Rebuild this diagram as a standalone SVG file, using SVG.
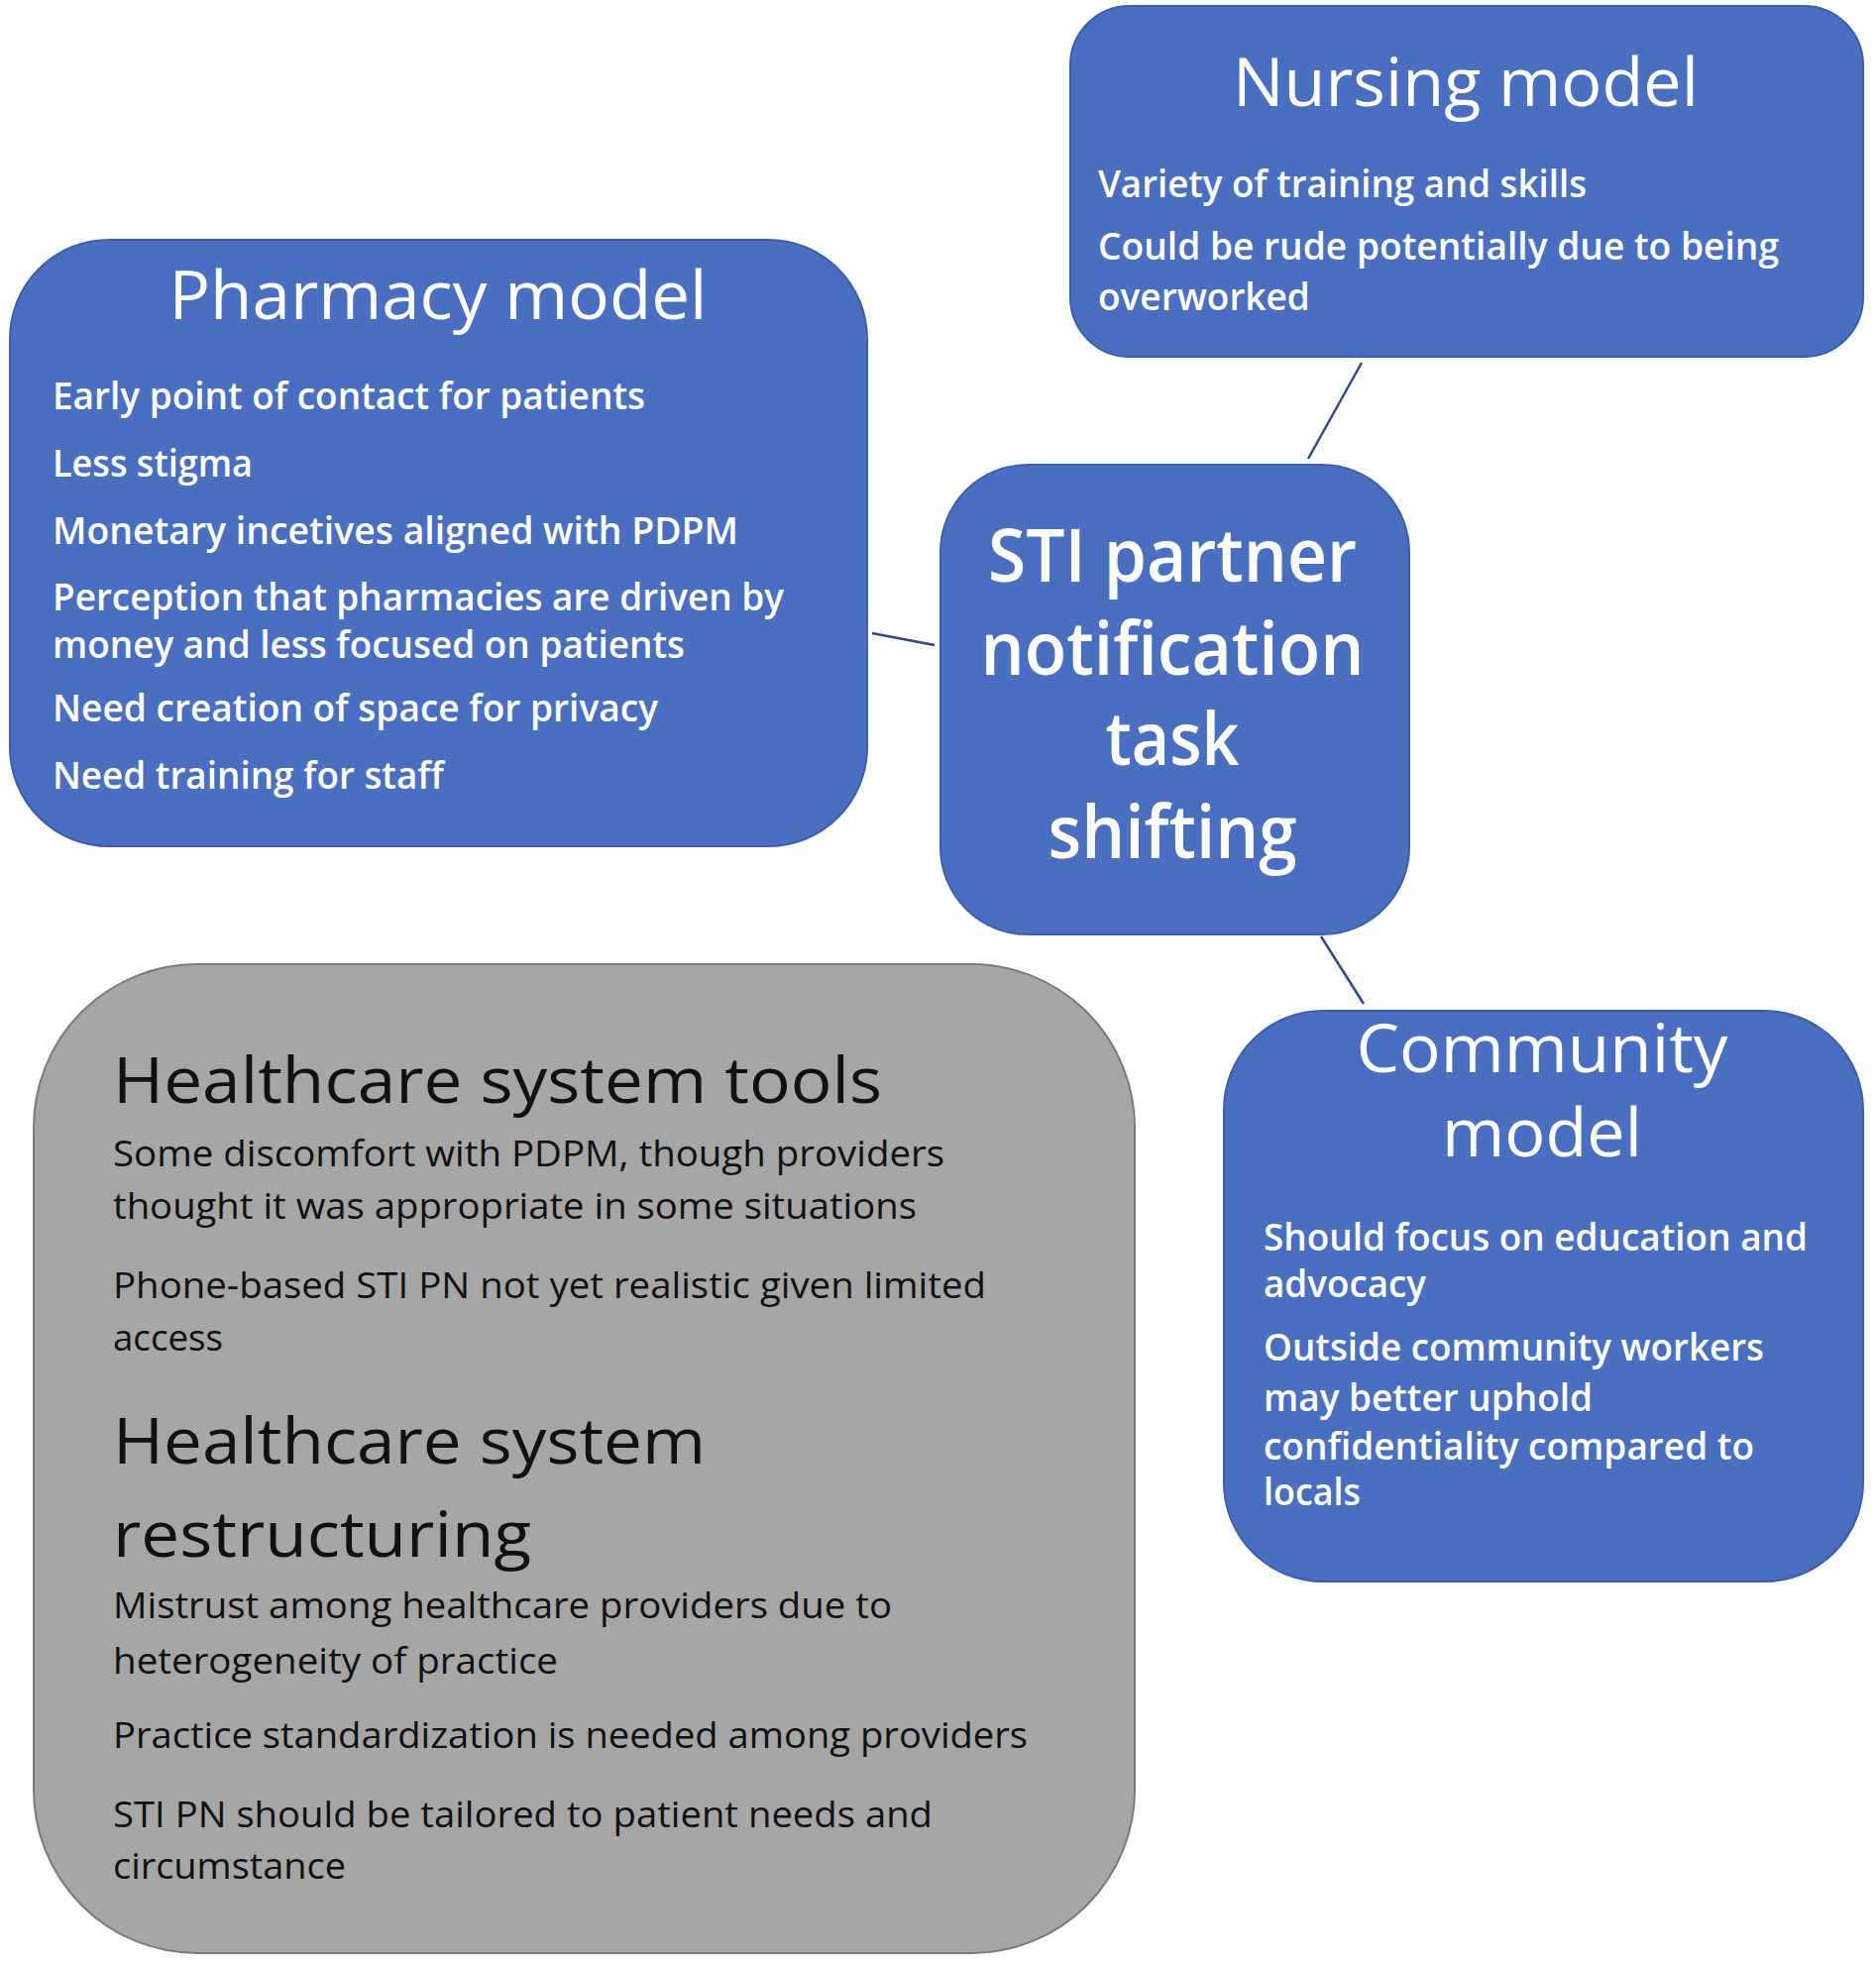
<svg xmlns="http://www.w3.org/2000/svg" width="1893" height="1983" viewBox="0 0 1893 1983">
<style>
.b{fill:#4a6fc1;stroke:#3d5fa8;stroke-width:2}
.g{fill:#a6a6a6;stroke:#7a7a7a;stroke-width:2}
text{font-family:"Open Sans","Liberation Sans",sans-serif}
.w{fill:#fff}
.k{fill:#111}
.t{font-size:68px}
.s{font-size:37px;font-weight:600}
.c{font-size:74px;font-weight:600}
.gt{font-size:64px}
.gs{font-size:37px}
.m{text-anchor:middle}
.l{stroke:#2f4a8a;stroke-width:2.5;fill:none}
</style>
<rect width="1893" height="1983" fill="#fff"/>
<g id="connectors">
<line class="l" x1="1374" y1="366" x2="1320" y2="463"/>
<line class="l" x1="880" y1="639" x2="943" y2="651"/>
<line class="l" x1="1333" y1="945" x2="1376" y2="1013"/>
</g>
<g id="nursing">
<rect class="b" x="1080" y="6" width="800" height="354" rx="60"/>
<text class="w t m" x="1479" y="107" textLength="470" lengthAdjust="spacingAndGlyphs">Nursing model</text>
<text class="w s" x="1108" y="199" textLength="493" lengthAdjust="spacingAndGlyphs">Variety of training and skills</text>
<text class="w s" x="1108" y="262" textLength="687" lengthAdjust="spacingAndGlyphs">Could be rude potentially due to being</text>
<text class="w s" x="1108" y="313">overworked</text>
</g>
<g id="pharmacy">
<rect class="b" x="10" y="242" width="865" height="612" rx="100"/>
<text class="w t m" x="442" y="322" textLength="543" lengthAdjust="spacingAndGlyphs">Pharmacy model</text>
<text class="w s" x="53" y="413" textLength="598" lengthAdjust="spacingAndGlyphs">Early point of contact for patients</text>
<text class="w s" x="53" y="481" textLength="202" lengthAdjust="spacingAndGlyphs">Less stigma</text>
<text class="w s" x="53" y="549" textLength="692" lengthAdjust="spacingAndGlyphs">Monetary incetives aligned with PDPM</text>
<text class="w s" x="53" y="616" textLength="738" lengthAdjust="spacingAndGlyphs">Perception that pharmacies are driven by</text>
<text class="w s" x="53" y="664" textLength="638" lengthAdjust="spacingAndGlyphs">money and less focused on patients</text>
<text class="w s" x="53" y="728" textLength="611" lengthAdjust="spacingAndGlyphs">Need creation of space for privacy</text>
<text class="w s" x="53" y="796" textLength="395" lengthAdjust="spacingAndGlyphs">Need training for staff</text>
</g>
<g id="center">
<rect class="b" x="949" y="469" width="473" height="474" rx="88"/>
<text class="w c m" x="1183" y="587" textLength="372" lengthAdjust="spacingAndGlyphs">STI partner</text>
<text class="w c m" x="1183" y="681" textLength="387" lengthAdjust="spacingAndGlyphs">notification</text>
<text class="w c m" x="1183" y="772" textLength="135" lengthAdjust="spacingAndGlyphs">task</text>
<text class="w c m" x="1183" y="866" textLength="251" lengthAdjust="spacingAndGlyphs">shifting</text>
</g>
<g id="community">
<rect class="b" x="1235" y="1020" width="645" height="576" rx="100"/>
<text class="w t m" x="1556" y="1082" textLength="375" lengthAdjust="spacingAndGlyphs">Community</text>
<text class="w t m" x="1556" y="1167" textLength="202" lengthAdjust="spacingAndGlyphs">model</text>
<text class="w s" x="1275" y="1262" textLength="549" lengthAdjust="spacingAndGlyphs">Should focus on education and</text>
<text class="w s" x="1275" y="1309" textLength="164" lengthAdjust="spacingAndGlyphs">advocacy</text>
<text class="w s" x="1275" y="1373" textLength="505" lengthAdjust="spacingAndGlyphs">Outside community workers</text>
<text class="w s" x="1275" y="1424" textLength="332" lengthAdjust="spacingAndGlyphs">may better uphold</text>
<text class="w s" x="1275" y="1473" textLength="495" lengthAdjust="spacingAndGlyphs">confidentiality compared to</text>
<text class="w s" x="1275" y="1519" textLength="98" lengthAdjust="spacingAndGlyphs">locals</text>
</g>
<g id="healthcare">
<rect class="g" x="34" y="973" width="1111" height="998" rx="165"/>
<text class="k gt" x="114" y="1113" textLength="776" lengthAdjust="spacingAndGlyphs">Healthcare system tools</text>
<text class="k gs" x="114" y="1177" textLength="839" lengthAdjust="spacingAndGlyphs">Some discomfort with PDPM, though providers</text>
<text class="k gs" x="114" y="1230" textLength="811" lengthAdjust="spacingAndGlyphs">thought it was appropriate in some situations</text>
<text class="k gs" x="114" y="1310" textLength="881" lengthAdjust="spacingAndGlyphs">Phone-based STI PN not yet realistic given limited</text>
<text class="k gs" x="114" y="1363" textLength="111" lengthAdjust="spacingAndGlyphs">access</text>
<text class="k gt" x="114" y="1477" textLength="598" lengthAdjust="spacingAndGlyphs">Healthcare system</text>
<text class="k gt" x="114" y="1571" textLength="422" lengthAdjust="spacingAndGlyphs">restructuring</text>
<text class="k gs" x="114" y="1633" textLength="786" lengthAdjust="spacingAndGlyphs">Mistrust among healthcare providers due to</text>
<text class="k gs" x="114" y="1689" textLength="449" lengthAdjust="spacingAndGlyphs">heterogeneity of practice</text>
<text class="k gs" x="114" y="1764" textLength="923" lengthAdjust="spacingAndGlyphs">Practice standardization is needed among providers</text>
<text class="k gs" x="114" y="1844" textLength="827" lengthAdjust="spacingAndGlyphs">STI PN should be tailored to patient needs and</text>
<text class="k gs" x="114" y="1896" textLength="235" lengthAdjust="spacingAndGlyphs">circumstance</text>
</g>
</svg>
